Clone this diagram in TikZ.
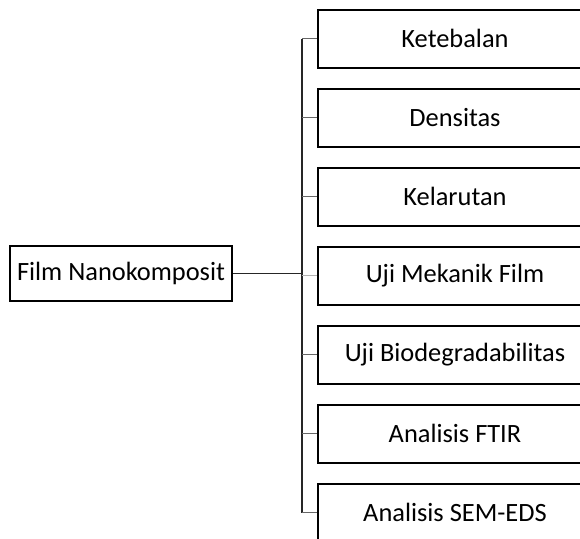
\documentclass[tikz,border=0pt]{standalone}
\usepackage{fontspec}
\setmainfont{Carlito}

\tikzset{
  test/.style={draw=black,line width=1pt,rectangle,minimum width=137.5pt,
               minimum height=29pt,inner sep=0pt,font=\fontsize{13.2}{15}\selectfont},
  film/.style={draw=black,line width=0.8pt,rectangle,minimum width=111pt,
               minimum height=27.5pt,inner sep=0pt,font=\fontsize{13.2}{15}\selectfont},
  trunk/.style={draw=black!85,line width=0.8pt},
  branch/.style={draw=black!60,line width=0.6pt}
}

\begin{document}
\begin{tikzpicture}[x=0.5pt,y=-0.5pt]
  \useasboundingbox (0,0) rectangle (580,538);
  \clip (0,0) rectangle (580,538);
  \node[film]  (film) at (121,273.5) {Film Nanokomposit};
  \node[test]  (ket)  at (455,38.5)  {Ketebalan};
  \node[test]  (den)  at (455,117.5) {Densitas};
  \node[test]  (kel)  at (455,196.5) {Kelarutan};
  \node[test]  (mek)  at (455,275.5) {Uji Mekanik Film};
  \node[test]  (bio)  at (455,354.5) {Uji Biodegradabilitas};
  \node[test]  (ftir) at (455,433.5) {Analisis FTIR};
  \node[test]  (sem)  at (455,512.5) {Analisis SEM-EDS};
  \coordinate  (bus)  at (302,273.5);
  \draw[trunk] (film) -- (bus);
  \draw[trunk] (bus |- ket.west) -- (bus |- sem.west);
  \draw[branch] (ket.west)  -- (ket.west -| bus);
  \draw[branch] (den.west)  -- (den.west -| bus);
  \draw[branch] (kel.west)  -- (kel.west -| bus);
  \draw[branch,black!30] (mek.west) -- (mek.west -| bus);
  \draw[branch] (bio.west)  -- (bio.west -| bus);
  \draw[branch] (ftir.west) -- (ftir.west -| bus);
  \draw[branch] (sem.west)  -- (sem.west -| bus);
\end{tikzpicture}
\end{document}
